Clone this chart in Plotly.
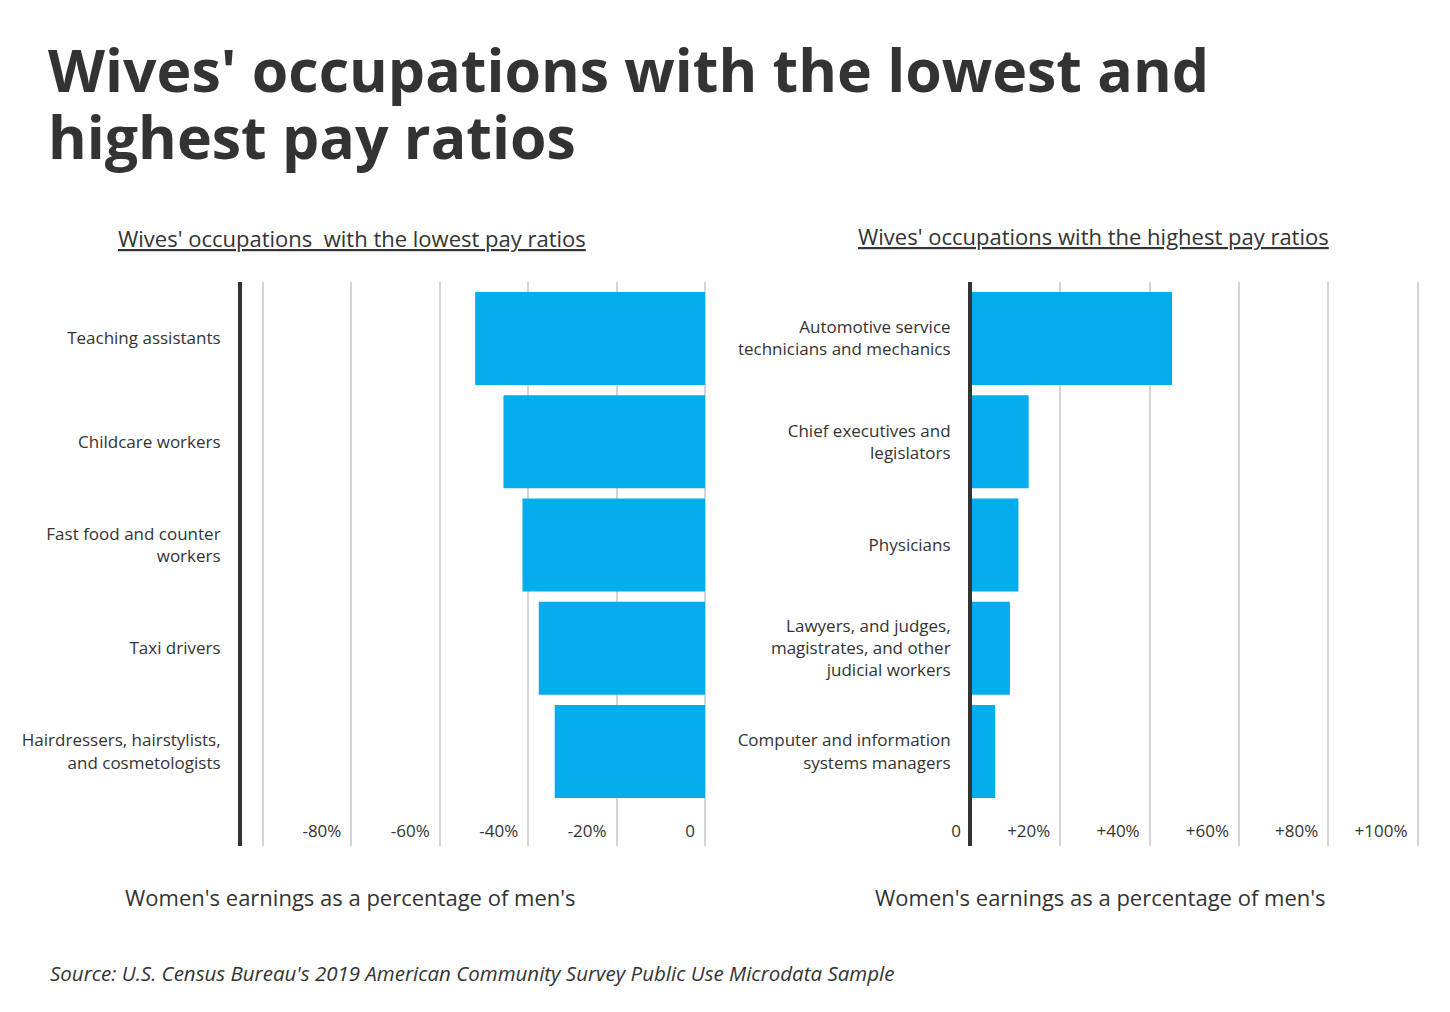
import plotly.graph_objects as go

# page is drawn with the browser's 8px body margin, so work in window pixels and shift
OFF = 8
W, H = 1434, 996

low_jobs = ["Teaching assistants", "Childcare workers", "Fast food and counter<br>workers",
            "Taxi drivers", "Hairdressers, hairstylists,<br>and cosmetologists"]
low_vals = [-52, -45.6, -41.3, -37.6, -34]

high_jobs = ["Automotive service<br>technicians and mechanics", "Chief executives and<br>legislators",
             "Physicians", "Lawyers, and judges,<br>magistrates, and other<br>judicial workers",
             "Computer and information<br>systems managers"]
high_vals = [45, 12.9, 10.6, 8.7, 5.4]

low_ticks = [-100, -80, -60, -40, -20, 0]
low_ticktext = ["", "-80%", "-60%", "-40%", "-20%", "0"]
high_ticks = [0, 20, 40, 60, 80, 100]
high_ticktext = ["0", "+20%", "+40%", "+60%", "+80%", "+100%"]

BAR = "#03adeb"
TXT = "#333333"
FONT = "Open Sans"


def px(x):
    return (x - OFF) / W


def py(y):
    return 1 - (y - OFF) / H


fig = go.Figure()
fig.add_trace(go.Bar(x=low_vals, y=low_jobs, orientation="h", marker=dict(color=BAR, line_width=0),
                     width=0.9, xaxis="x", yaxis="y", hoverinfo="x+y"))
fig.add_trace(go.Bar(x=high_vals, y=high_jobs, orientation="h", marker=dict(color=BAR, line_width=0),
                     width=0.9, xaxis="x2", yaxis="y2", hoverinfo="x+y"))

ydom = [py(846), py(282)]
xcommon = dict(showgrid=True, gridcolor="#d4d4d4", gridwidth=2, zeroline=False, showline=False,
               ticks="", ticklabelposition="inside left", ticklabelshift=-10,
               tickfont=dict(size=17, color=TXT, family=FONT))
ycommon = dict(showgrid=False, zeroline=False, showline=True, linecolor=TXT, linewidth=4,
               ticks="", ticklabelstandoff=14, tickfont=dict(size=17, color=TXT, family=FONT),
               domain=ydom, autorange=False, range=[4.915, -0.547], fixedrange=True)

fig.update_layout(
    width=W, height=H, margin=dict(l=0, r=0, t=0, b=0),
    paper_bgcolor="white", plot_bgcolor="white", showlegend=False, bargap=0.1,
    font=dict(family=FONT, color=TXT),
    xaxis=dict(domain=[px(242), px(707)], range=[-104.75, 0.45], tickvals=low_ticks,
               ticktext=low_ticktext, anchor="y", **xcommon),
    yaxis=dict(anchor="x", **ycommon),
    xaxis2=dict(domain=[px(930), px(1422)], range=[-9.2, 101.0], tickvals=high_ticks,
                ticktext=high_ticktext, anchor="y2", **xcommon),
    yaxis2=dict(anchor="free", position=px(970), **ycommon),
)

annots = [
    dict(text="<b>Wives' occupations with the lowest and</b>", x=px(46), y=py(27),
         xanchor="left", yanchor="top", font=dict(size=59, color=TXT, family=FONT)),
    dict(text="<b>highest pay ratios</b>", x=px(46), y=py(94),
         xanchor="left", yanchor="top", font=dict(size=59, color=TXT, family=FONT)),
    dict(text="<u>Wives' occupations  with the lowest pay ratios</u>", x=px(352), y=py(238),
         font=dict(size=22, color=TXT, family=FONT)),
    dict(text="<u>Wives' occupations with the highest pay ratios</u>", x=px(1093), y=py(236),
         font=dict(size=22, color=TXT, family=FONT)),
    dict(text="Women's earnings as a percentage of men's", x=px(350), y=py(897),
         font=dict(size=22, color=TXT, family=FONT)),
    dict(text="Women's earnings as a percentage of men's", x=px(1100), y=py(897),
         font=dict(size=22, color=TXT, family=FONT)),
    dict(text="<i>Source: U.S. Census Bureau's 2019 American Community Survey Public Use Microdata Sample</i>",
         x=px(48), y=py(973), xanchor="left", font=dict(size=20.5, color=TXT, family=FONT)),
]
for a in annots:
    a.update(xref="paper", yref="paper", showarrow=False)
    a.setdefault("xanchor", "center")
    a.setdefault("yanchor", "middle")
fig.update_layout(annotations=annots)

fig.write_html("out.html")
